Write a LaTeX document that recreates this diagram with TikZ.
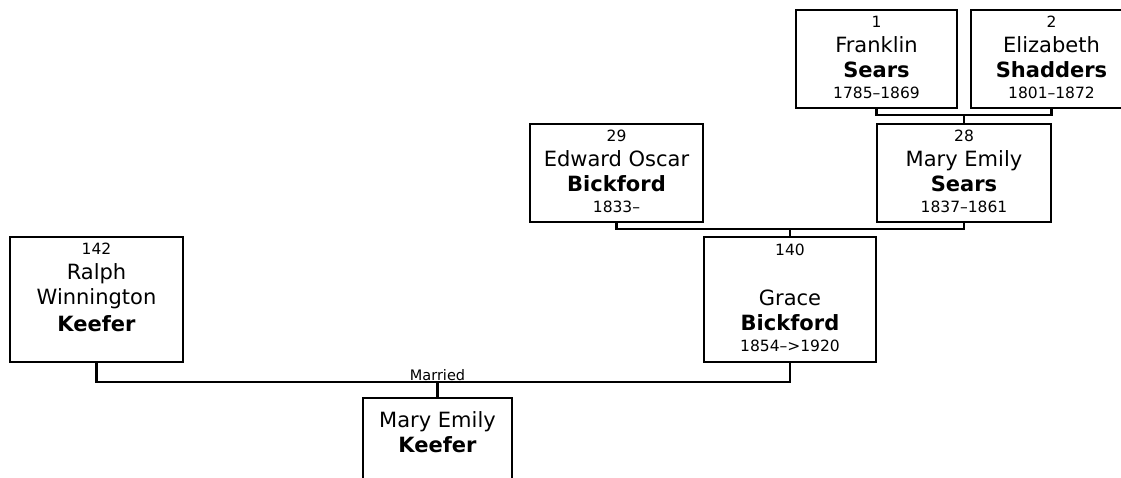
\documentclass[tikz,border=0pt]{standalone}
\usepackage{fontspec}
\setmainfont{DejaVu Sans}
\usetikzlibrary{calc}
\begin{document}
\begin{tikzpicture}[x=1pt,y=-1pt,
  pbox/.style={draw=black,line width=2.2pt,fill=white,anchor=north west,inner sep=0pt,outer sep=0pt},
  ptext/.style={anchor=north,align=center,inner sep=0pt,font=\fontsize{21}{25}\selectfont},
  conn/.style={draw=black,line width=2.2pt},
  smalltxt/.style={font=\fontsize{14.5}{17}\selectfont}]
\newcommand\numtxt[1]{{\fontsize{15.5}{18}\selectfont #1}}
\useasboundingbox (0,0) rectangle (1121,478);
% boxes
\node[pbox,minimum width=161pt,minimum height=98pt] (f1) at (796,10) {};
\node[pbox,minimum width=161pt,minimum height=98pt] (f2) at (971,10) {};
\node[pbox,minimum width=174pt,minimum height=98pt] (m28) at (877,124) {};
\node[pbox,minimum width=173pt,minimum height=98pt] (e29) at (530,124) {};
\node[pbox,minimum width=172pt,minimum height=125pt] (g140) at (704,237) {};
\node[pbox,minimum width=173pt,minimum height=125pt] (r142) at (10,237) {};
\node[pbox,minimum width=149pt,minimum height=100pt] (k) at (363,398) {};
% texts
\node[ptext] (f1t) at ([yshift=-6pt]f1.north) {\numtxt{1}\\Franklin\\\textbf{Sears}\\[-4pt]\numtxt{1785–1869}};
\node[ptext] (f2t) at ([yshift=-6pt]f2.north) {\numtxt{2}\\Elizabeth\\\textbf{Shadders}\\[-4pt]\numtxt{1801–1872}};
\node[ptext] (m28t) at ([yshift=-6pt]m28.north) {\numtxt{28}\\Mary Emily\\\textbf{Sears}\\[-4pt]\numtxt{1837–1861}};
\node[ptext] (e29t) at ([yshift=-6pt]e29.north) {\numtxt{29}\\Edward Oscar\\\textbf{Bickford}\\[-4pt]\numtxt{1833–}};
\node[ptext] (g140t) at ([yshift=-7pt]g140.north) {\numtxt{140}\\[25pt]Grace\\\textbf{Bickford}\\[-4pt]\numtxt{1854–>1920}};
\node[ptext] (r142t) at ([yshift=-6pt]r142.north) {\numtxt{142}\\Ralph\\Winnington\\[2pt]\textbf{Keefer}};
\node[ptext] (kt) at ([yshift=-13pt]k.north) {Mary Emily\\\textbf{Keefer}};
% connectors
\coordinate (j1) at ($(f1.south)+(0,7)$);
\draw[conn] (f1.south) -- (j1) -| (f2.south);
\draw[conn] (m28.north) -- (m28.north |- j1);
\coordinate (j2) at ($(e29.south)+(0,7)$);
\draw[conn] (e29.south) -- (j2) -| (m28.south);
\draw[conn] (g140.north) -- (g140.north |- j2);
\coordinate (j3) at ($(r142.south)+(0,20)$);
\draw[conn] (r142.south) -- (j3) -| (g140.south);
\draw[conn] (k.north) -- (k.north |- j3);
\node[smalltxt,anchor=south,inner sep=1pt] (mar) at (k.north |- j3) {Married};
\end{tikzpicture}
\end{document}
